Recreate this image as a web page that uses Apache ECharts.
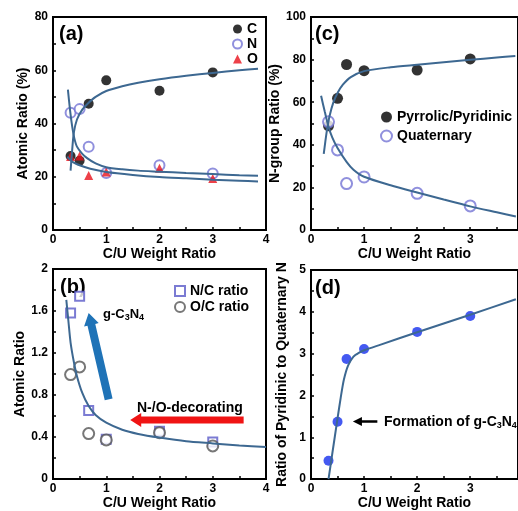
<!DOCTYPE html>
<html>
<head>
<meta charset="utf-8">
<script src="https://cdn.jsdelivr.net/npm/echarts@6/dist/echarts.min.js"></script>
<style>html,body{margin:0;padding:0;background:#fff}#c{width:518px;height:511px}</style>
</head>
<body>
<div id="c"></div>
<script>
// ---- data ----
const xVals = [0.33, 0.5, 0.67, 1, 2, 3];
// (a) atomic ratio (%)
const aC = [27.8, 26.0, 47.4, 56.2, 52.3, 59.2];
const aN = [44.0, 45.4, 31.3, 21.4, 24.3, 21.2];
const aO = [27.6, 27.8, 20.5, 21.8, 23.2, 19.3];
const aFitCx = [0.33, 0.36, 0.39, 0.45, 0.55, 0.66, 0.8, 1.0, 1.3, 1.6, 2, 2.5, 3, 3.5, 3.85];
const aFitCy = [22.3, 30.0, 36.4, 41.5, 45.2, 47.6, 50.0, 52.2, 54.0, 55.3, 56.6, 57.9, 59.0, 60.0, 60.6];
const aFitNx = [0.28, 0.32, 0.36, 0.4, 0.45, 0.55, 0.64, 0.8, 1.0, 1.3, 1.6, 2, 2.5, 3, 3.5, 3.85];
const aFitNy = [52.7, 45.0, 38.9, 34.5, 31.3, 28.6, 27.0, 25.0, 23.6, 22.8, 22.3, 21.9, 21.4, 21.0, 20.6, 20.4];
const aFitOx = [0.27, 0.33, 0.39, 0.5, 0.7, 1.0, 1.5, 2, 2.5, 3, 3.5, 3.85];
const aFitOy = [27.6, 26.2, 25.3, 24.3, 23.0, 21.8, 20.7, 19.9, 19.4, 18.9, 18.5, 18.2];
// (b) atomic ratio
const bNC = [1.58, 1.74, 0.654, 0.38, 0.455, 0.354];
const bOC = [0.995, 1.068, 0.433, 0.373, 0.442, 0.316];
const bFitx = [0.25, 0.29, 0.33, 0.39, 0.45, 0.55, 0.67, 0.8, 1.0, 1.3, 1.6, 2, 2.5, 3, 3.5, 4];
const bFity = [1.706, 1.5, 1.30, 1.12, 0.98, 0.82, 0.695, 0.61, 0.537, 0.47, 0.43, 0.395, 0.36, 0.34, 0.32, 0.306];
// (c) N-group ratio (%)
const cPyr = [48.9, 61.8, 77.7, 74.8, 75.1, 80.3];
const cQua = [50.8, 37.6, 21.8, 24.9, 17.2, 11.3];
const cFitPx = [0.24, 0.27, 0.30, 0.35, 0.42, 0.5, 0.6, 0.75, 1.0, 1.5, 2, 2.5, 3, 3.5, 3.85];
const cFitPy = [35.7, 41.5, 46.8, 53.5, 59.8, 64.3, 68.2, 71.8, 74.6, 76.4, 77.6, 78.8, 79.9, 81.0, 81.7];
const cFitQx = [0.19, 0.26, 0.33, 0.4, 0.5, 0.67, 0.8, 1.0, 1.5, 2, 2.5, 3, 3.5, 3.86];
const cFitQy = [63.0, 55.5, 48.5, 43.5, 38.5, 32.0, 28.3, 25.0, 21.0, 17.6, 14.3, 11.1, 8.3, 6.3];
// (d) ratio of pyridinic to quaternary N
const dRatio = [0.44, 1.37, 2.87, 3.11, 3.52, 3.90];
const dFitx = [0.33, 0.4, 0.5, 0.56, 0.62, 0.7, 0.8, 0.9, 1.0, 1.3, 2, 3, 3.86];
const dFity = [0.0, 0.6, 1.45, 1.95, 2.38, 2.72, 2.93, 3.02, 3.08, 3.21, 3.51, 3.93, 4.3];
// annotation arrows [x1, y1, x2, y2] (tail -> tip) in data units
const arrowBlueB = [[1.045, 0.758, 0.67, 1.58]];
const arrowRedB = [[3.58, 0.562, 1.45, 0.562]];
const arrowBlackD = [[1.25, 1.38, 0.79, 1.38]];

// ---- helpers ----
const FONT = 'Liberation Sans, Arial, Helvetica, sans-serif';
const CURVE = '#3d6891';
const pairs = (xs, ys) => xs.map((x, i) => [x, ys[i]]);

function xAxisCfg(grid, max) {
  return {
    type: 'value', gridIndex: grid, min: 0, max: max, interval: 1,
    name: 'C/U Weight Ratio', nameLocation: 'middle', nameGap: 15,
    nameTextStyle: {fontFamily: FONT, fontWeight: 'bold', fontSize: 14, color: '#000'},
    axisLine: {show: true, onZero: false, lineStyle: {color: '#000', width: 2}},
    axisTick: {show: true, inside: true, length: 3, lineStyle: {color: '#000', width: 1.5}},
    minorTick: {show: true, splitNumber: 2, length: 3, lineStyle: {color: '#000', width: 1.5}},
    axisLabel: {fontFamily: FONT, fontWeight: 'bold', fontSize: 12, color: '#000', margin: 4, showMaxLabel: max === 4},
    splitLine: {show: false}, minorSplitLine: {show: false}
  };
}
function yAxisCfg(grid, max, interval, name, gap) {
  return {
    type: 'value', gridIndex: grid, min: 0, max: max, interval: interval,
    name: name, nameLocation: 'middle', nameGap: gap,
    nameTextStyle: {fontFamily: FONT, fontWeight: 'bold', fontSize: 14, color: '#000'},
    axisLine: {show: true, onZero: false, lineStyle: {color: '#000', width: 2}},
    axisTick: {show: true, inside: true, length: 3, lineStyle: {color: '#000', width: 1.5}},
    minorTick: {show: true, splitNumber: 2, length: 3, lineStyle: {color: '#000', width: 1.5}},
    axisLabel: {fontFamily: FONT, fontWeight: 'bold', fontSize: 12, color: '#000', margin: 5},
    splitLine: {show: false}, minorSplitLine: {show: false}
  };
}
function curve(grid, xs, ys) {
  return {type: 'line', xAxisIndex: grid, yAxisIndex: grid, data: pairs(xs, ys),
    smooth: 0.25, showSymbol: false, silent: true, z: 3,
    lineStyle: {color: CURVE, width: 2}};
}
function scatter(grid, name, ys, symbol, size, color) {
  return {type: 'scatter', name: name, xAxisIndex: grid, yAxisIndex: grid, data: pairs(xVals, ys),
    symbol: symbol, symbolSize: size, z: 2,
    itemStyle: {color: color, borderColor: color, borderWidth: symbol.indexOf('empty') === 0 ? 1 : 0}};
}
function arrow(grid, data, color, w, hw, hl) {
  return {
    type: 'custom', xAxisIndex: grid, yAxisIndex: grid, data: data, silent: true, z: 5,
    encode: {x: [0, 2], y: [1, 3]},
    renderItem: function (params, api) {
      const a = api.coord([api.value(0), api.value(1)]);
      const b = api.coord([api.value(2), api.value(3)]);
      const dx = b[0] - a[0], dy = b[1] - a[1];
      const L = Math.sqrt(dx * dx + dy * dy);
      const ux = dx / L, uy = dy / L, nx = -uy, ny = ux;
      const m = [b[0] - ux * hl, b[1] - uy * hl];
      const pts = [
        [a[0] + nx * w / 2, a[1] + ny * w / 2],
        [m[0] + nx * w / 2, m[1] + ny * w / 2],
        [m[0] + nx * hw / 2, m[1] + ny * hw / 2],
        [b[0], b[1]],
        [m[0] - nx * hw / 2, m[1] - ny * hw / 2],
        [m[0] - nx * w / 2, m[1] - ny * w / 2],
        [a[0] - nx * w / 2, a[1] - ny * w / 2]
      ];
      return {type: 'polygon', shape: {points: pts}, style: {fill: color}};
    }
  };
}
const legendText = {fontFamily: FONT, fontWeight: 'bold', fontSize: 14, color: '#000', lineHeight: 14};
const subRich = {
  m: {fontFamily: FONT, fontWeight: 'bold', fontSize: 13, lineHeight: 16, color: '#000'},
  s: {fontFamily: FONT, fontWeight: 'bold', fontSize: 9, lineHeight: 9, verticalAlign: 'bottom', color: '#000'}
};

const chart = echarts.init(document.getElementById('c'), null, {renderer: 'canvas'});
chart.setOption({
  animation: false,
  backgroundColor: '#fff',
  grid: [
    {left: 53, top: 17, width: 213, height: 213, show: true, borderColor: '#000', borderWidth: 2, backgroundColor: 'transparent'},
    {left: 311, top: 17, width: 207.5, height: 213, show: true, borderColor: '#000', borderWidth: 2, backgroundColor: 'transparent'},
    {left: 53, top: 269, width: 213, height: 211, show: true, borderColor: '#000', borderWidth: 2, backgroundColor: 'transparent'},
    {left: 311, top: 270, width: 207.5, height: 210, show: true, borderColor: '#000', borderWidth: 2, backgroundColor: 'transparent'}
  ],
  xAxis: [xAxisCfg(0, 4), xAxisCfg(1, 3.9), xAxisCfg(2, 4), xAxisCfg(3, 3.9)],
  yAxis: [
    yAxisCfg(0, 80, 20, 'Atomic Ratio (%)', 23),
    yAxisCfg(1, 100, 20, 'N-group Ratio (%)', 21),
    yAxisCfg(2, 2, 0.4, 'Atomic Ratio', 21),
    yAxisCfg(3, 5, 1, 'Ratio of Pyridinic to Quaternary N', 22)
  ],
  legend: [
    {data: ['C', 'N', 'O'], orient: 'vertical', left: 227, top: 17, itemWidth: 9, itemHeight: 9, itemGap: 1, textStyle: legendText, selectedMode: false},
    {data: ['Pyrrolic/Pyridinic', 'Quaternary'], orient: 'vertical', left: 375, top: 105, itemWidth: 11, itemHeight: 11, itemGap: 5, textStyle: legendText, selectedMode: false},
    {data: ['N/C ratio', 'O/C ratio'], orient: 'vertical', left: 169, top: 279, itemWidth: 10, itemHeight: 10, itemGap: 2, textStyle: legendText, selectedMode: false}
  ],
  graphic: [
    {type: 'text', x: 59, y: 34, style: {text: '(a)', font: 'bold 20px ' + FONT, fill: '#000', verticalAlign: 'middle'}},
    {type: 'text', x: 315, y: 34, style: {text: '(c)', font: 'bold 20px ' + FONT, fill: '#000', verticalAlign: 'middle'}},
    {type: 'text', x: 60, y: 287, style: {text: '(b)', font: 'bold 20px ' + FONT, fill: '#000', verticalAlign: 'middle'}},
    {type: 'text', x: 315, y: 288, style: {text: '(d)', font: 'bold 20px ' + FONT, fill: '#000', verticalAlign: 'middle'}},
    {type: 'text', x: 103, y: 314, style: {text: '{m|g-C}{s|3}{m|N}{s|4}', rich: subRich, verticalAlign: 'middle'}},
    {type: 'text', x: 137, y: 408, style: {text: 'N-/O-decorating', font: 'bold 14px ' + FONT, fill: '#000', verticalAlign: 'middle'}},
    {type: 'text', x: 384, y: 422, style: {text: '{m|Formation of g-C}{s|3}{m|N}{s|4}', rich: {
      m: {fontFamily: FONT, fontWeight: 'bold', fontSize: 14, lineHeight: 17, color: '#000'},
      s: {fontFamily: FONT, fontWeight: 'bold', fontSize: 9, lineHeight: 9, verticalAlign: 'bottom', color: '#000'}
    }, verticalAlign: 'middle'}}
  ],
  series: [
    scatter(0, 'C', aC, 'circle', 10, '#000'),
    scatter(0, 'N', aN, 'emptyCircle', 10, '#7474d4'),
    scatter(0, 'O', aO, 'triangle', 9, '#e8121c'),
    curve(0, aFitCx, aFitCy),
    curve(0, aFitNx, aFitNy),
    curve(0, aFitOx, aFitOy),
    scatter(1, 'Pyrrolic/Pyridinic', cPyr, 'circle', 11, '#000'),
    scatter(1, 'Quaternary', cQua, 'emptyCircle', 11, '#7474d4'),
    curve(1, cFitPx, cFitPy),
    curve(1, cFitQx, cFitQy),
    scatter(2, 'N/C ratio', bNC, 'emptyRect', 9, '#5a5ac8'),
    scatter(2, 'O/C ratio', bOC, 'emptyCircle', 11, '#555'),
    curve(2, bFitx, bFity),
    arrow(2, arrowBlueB, '#1f73b7', 8, 15, 12),
    arrow(2, arrowRedB, '#f01414', 7, 14, 11),
    scatter(3, 'ratio', dRatio, 'circle', 10, '#1530ee'),
    curve(3, dFitx, dFity),
    arrow(3, arrowBlackD, '#000', 2.5, 9, 9)
  ]
});
</script>
</body>
</html>
